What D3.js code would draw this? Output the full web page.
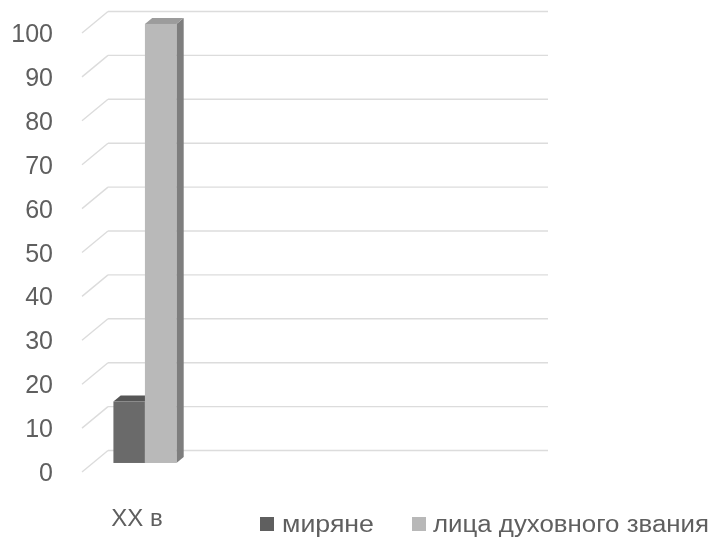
<!DOCTYPE html>
<html>
<head>
<meta charset="utf-8">
<script src="https://cdn.jsdelivr.net/npm/d3@7"></script>
<style>
  html, body { margin: 0; padding: 0; background: #fff; }
  svg { display: block; }
  text { font-family: "Liberation Sans", Arial, sans-serif; fill: #5e5e5e; }
</style>
</head>
<body>
<svg id="chart" width="712" height="538"></svg>
<script>
// Category slots on the axis (only the first one carries a name and data)
const categories = ["XX в", "", "", ""];
const seriesNames = ["миряне", "лица духовного звания"];
const laity = [14, null, null, null];
const clergy = [100, null, null, null];
const yTicks = [0, 10, 20, 30, 40, 50, 60, 70, 80, 90, 100];

const seriesValues = [laity, clergy];
const colors = [
  { front: "#6a6a6a", top: "#565656", side: "#4e4e4e", legend: "#5f5f5f" },
  { front: "#b9b9b9", top: "#9c9c9c", side: "#7e7e7e", legend: "#b8b8b8" }
];

// Oblique 3D projection: depth z in [0,1] shifts points right and up
const DX = 26, DY = 21.5;
const proj = (xf, yf, z) => [xf + z * DX, yf - z * DY];

const svg = d3.select("#chart");
const defs = svg.append("defs");
defs.append("filter").attr("id", "soft")
  .append("feGaussianBlur").attr("stdDeviation", 0.55);

const root = svg.append("g").attr("filter", "url(#soft)");

const y = d3.scaleLinear().domain([0, 100]).range([472, 33]);
const x = d3.scaleBand().domain(d3.range(categories.length)).range([82, 522]).padding(0);

// Gridlines: back wall horizontals plus the diagonal on the left side wall
const grid = root.append("g");
yTicks.forEach(t => {
  const f = [x.range()[0], y(t)];
  const b = proj(f[0], f[1], 1);
  const e = proj(x.range()[1], f[1], 1);
  grid.append("line")
    .attr("x1", f[0]).attr("y1", f[1]).attr("x2", b[0]).attr("y2", b[1])
    .attr("stroke", "#dcdcdc").attr("stroke-width", 1.4);
  grid.append("line")
    .attr("x1", b[0]).attr("y1", b[1]).attr("x2", e[0]).attr("y2", e[1])
    .attr("stroke", "#dcdcdc").attr("stroke-width", 1.4);
});

// Y axis labels
root.append("g").selectAll("text").data(yTicks).join("text")
  .attr("x", 53).attr("y", d => y(d))
  .attr("dy", "0.36em")
  .attr("text-anchor", "end")
  .attr("font-size", 25)
  .text(d => d);

// Bars (clustered, placed at mid depth)
const z0 = 0.42, z1 = 0.70;
const groupWidth = 63;
const inner = d3.scaleBand().domain(d3.range(seriesNames.length)).range([0, groupWidth]).padding(0);

const barsG = root.append("g");
categories.forEach((c, ci) => {
  const cx = x(ci) + x.bandwidth() / 2 - 3;
  seriesValues.forEach((vals, si) => {
    const v = vals[ci];
    if (v == null) return;
    const x0 = cx - groupWidth / 2 + inner(si);
    const x1 = x0 + inner.bandwidth();
    const yb = y(0), yt = y(v);
    const pt = (xx, yy, z) => proj(xx, yy, z).join(",");
    const col = colors[si];
    // right side face
    barsG.append("polygon")
      .attr("points", [pt(x1, yb, z0), pt(x1, yb, z1), pt(x1, yt, z1), pt(x1, yt, z0)].join(" "))
      .attr("fill", col.side);
    // top face
    barsG.append("polygon")
      .attr("points", [pt(x0, yt, z0), pt(x1, yt, z0), pt(x1, yt, z1), pt(x0, yt, z1)].join(" "))
      .attr("fill", col.top);
    // front face
    const fa = proj(x0, yt, z0), fb = proj(x1, yb, z0);
    barsG.append("rect")
      .attr("x", fa[0]).attr("y", fa[1])
      .attr("width", fb[0] - fa[0]).attr("height", fb[1] - fa[1])
      .attr("fill", col.front);
  });
});

// Category labels
root.append("g").selectAll("text").data(categories).join("text")
  .attr("x", (d, i) => x(i) + x.bandwidth() / 2)
  .attr("y", 526)
  .attr("text-anchor", "middle")
  .attr("font-size", 24)
  .text(d => d);

// Legend
const legendItems = [
  { sx: 260, tx: 282, tw: 92 },
  { sx: 412, tx: 433, tw: 276 }
];
const lg = root.append("g");
seriesNames.forEach((name, i) => {
  const it = legendItems[i];
  lg.append("rect")
    .attr("x", it.sx).attr("y", 517).attr("width", 14).attr("height", 14)
    .attr("fill", colors[i].legend);
  lg.append("text")
    .attr("x", it.tx).attr("y", 532)
    .attr("font-size", 23)
    .attr("textLength", it.tw)
    .attr("lengthAdjust", "spacingAndGlyphs")
    .text(name);
});
</script>
</body>
</html>
